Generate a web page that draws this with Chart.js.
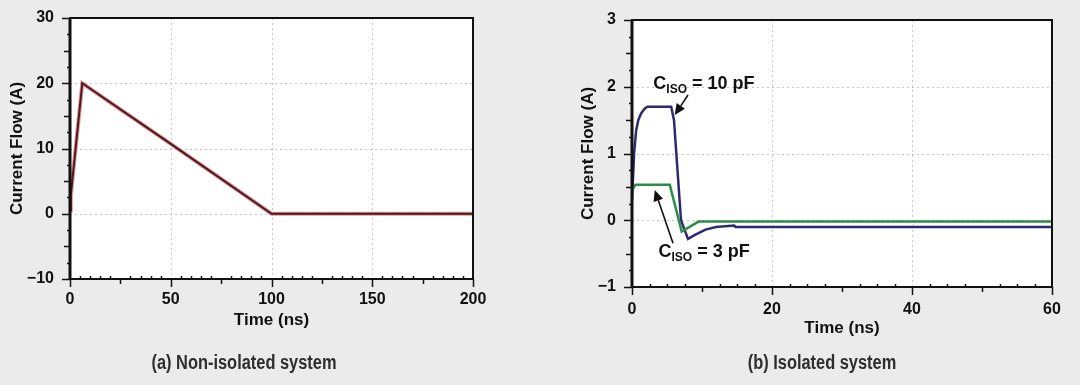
<!DOCTYPE html>
<html>
<head>
<meta charset="utf-8">
<script src="https://cdn.jsdelivr.net/npm/chart.js@4.4.1/dist/chart.umd.min.js"></script>
<style>
  html, body { margin: 0; padding: 0; background: #ebebeb; }
  #wrap { position: relative; width: 1080px; height: 385px; overflow: hidden; }
  canvas { position: absolute; top: 0; }
  .cap {
    position: absolute; top: 351px; line-height: 24px;
    font: bold 20px "Liberation Sans", Arial, sans-serif;
    color: #2e2e2e; transform: translateX(-50%) scaleX(0.82); white-space: nowrap;
  }
</style>
</head>
<body>
<div id="wrap">
  <canvas id="nonIso" width="540" height="385" style="left:0"></canvas>
  <canvas id="iso" width="540" height="385" style="left:540px"></canvas>
  <div class="cap" style="left:244px">(a) Non-isolated system</div>
  <div class="cap" style="left:822px">(b) Isolated system</div>
</div>
<script>
// (a) non-isolated system
const nonIsoTime = [0, 0.4, 6.1, 50, 100, 200];
const nonIsoCurrent = [0.5, 2.8, 20, 10.7, 0, 0];
const nonIsoXTicks = [0, 50, 100, 150, 200];
const nonIsoYTicks = [-10, 0, 10, 20, 30];

// (b) isolated system
const iso10Time = [0, 0.3, 0.6, 0.9, 1.3, 1.8, 2.2, 5.6, 6.0, 7.0, 8.0, 9.0, 10.5, 12, 14.6, 14.8, 60];
const iso10Current = [0.3, 1.0, 1.35, 1.5, 1.6, 1.67, 1.7, 1.7, 1.5, 0.0, -0.28, -0.22, -0.14, -0.1, -0.08, -0.1, -0.1];
const iso3Time = [0, 0.5, 5.4, 7.1, 9.5, 60];
const iso3Current = [0.45, 0.53, 0.53, -0.17, -0.02, -0.02];
const isoXTicks = [0, 20, 40, 60];
const isoYTicks = [-1, 0, 1, 2, 3];

const FONT = '"Liberation Sans", Arial, sans-serif';
const pts = (xs, ys) => xs.map((x, i) => ({ x: x, y: ys[i] }));
const minus = (v) => String(v).replace('-', '\u2212');

// frame, dotted grid and tick marks, drawn through the chart's scales
function axisFrame(t) {
  return {
    id: 'axisFrame',
    beforeDraw(chart) {
      const { ctx, chartArea: a } = chart;
      ctx.save();
      ctx.fillStyle = '#ffffff';
      ctx.fillRect(a.left, a.top, a.width, a.height);
      ctx.restore();
    },
    beforeDatasetsDraw(chart) {
      const { ctx, chartArea: a, scales: { x, y } } = chart;
      ctx.save();
      ctx.strokeStyle = '#c6c6c6';
      ctx.lineWidth = 1;
      ctx.setLineDash([2, 3]);
      t.xTicks.slice(1, -1).forEach((v) => {
        const px = Math.round(x.getPixelForValue(v)) + 0.5;
        ctx.beginPath(); ctx.moveTo(px, a.top); ctx.lineTo(px, a.bottom); ctx.stroke();
      });
      t.yTicks.slice(1, -1).forEach((v) => {
        const py = Math.round(y.getPixelForValue(v)) + 0.5;
        ctx.beginPath(); ctx.moveTo(a.left, py); ctx.lineTo(a.right, py); ctx.stroke();
      });
      ctx.restore();
    },
    afterDatasetsDraw(chart) {
      const { ctx, chartArea: a, scales: { x, y } } = chart;
      ctx.save();
      ctx.strokeStyle = '#111';
      ctx.lineWidth = 1.5;
      // y ticks, outward
      const ny = Math.round((y.max - y.min) / t.yMinor);
      for (let i = 0; i <= ny; i++) {
        const py = Math.round(y.getPixelForValue(y.min + i * t.yMinor)) + 0.5;
        const len = i % t.yMajorEvery === 0 ? 8 : (i % t.yMidEvery === 0 ? 6 : 3);
        ctx.beginPath(); ctx.moveTo(a.left - len, py); ctx.lineTo(a.left, py); ctx.stroke();
      }
      // x ticks: major/mid outward, minor inward
      const nx = Math.round((x.max - x.min) / t.xMinor);
      for (let i = 0; i <= nx; i++) {
        const px = Math.round(x.getPixelForValue(x.min + i * t.xMinor)) + 0.5;
        ctx.beginPath();
        if (i % t.xMajorEvery === 0) { ctx.moveTo(px, a.bottom); ctx.lineTo(px, a.bottom + 8); }
        else if (i % t.xMidEvery === 0) { ctx.moveTo(px, a.bottom); ctx.lineTo(px, a.bottom + 5); }
        else { ctx.moveTo(px, a.bottom); ctx.lineTo(px, a.bottom - 3); }
        ctx.stroke();
      }
      ctx.lineWidth = 2;
      ctx.strokeRect(a.left, a.top, a.width, a.height);
      ctx.lineWidth = 3;
      ctx.beginPath(); ctx.moveTo(a.left, a.top); ctx.lineTo(a.left, a.bottom + 1); ctx.stroke();
      ctx.restore();
    }
  };
}

function makeScales(xMax, xTicks, yMin, yMax, yTicks, yWidth, yTitlePad, xLabelPad) {
  return {
    x: {
      type: 'linear', min: 0, max: xMax,
      afterBuildTicks: (s) => { s.ticks = xTicks.map((v) => ({ value: v })); },
      afterFit: (s) => { s.height = 52; s.paddingLeft = 0; s.paddingRight = 0; },
      grid: { display: false, drawTicks: false },
      border: { display: false },
      ticks: { autoSkip: false, maxRotation: 0, padding: xLabelPad, color: '#111',
               font: { family: FONT, size: 16, weight: 'bold' } },
      title: { display: true, text: 'Time (ns)', color: '#111', padding: { top: 0, bottom: 0 },
               font: { family: FONT, size: 17, weight: 'bold' } }
    },
    y: {
      type: 'linear', min: yMin, max: yMax,
      afterBuildTicks: (s) => { s.ticks = yTicks.map((v) => ({ value: v })); },
      afterFit: (s) => { s.width = yWidth; s.paddingTop = 0; s.paddingBottom = 0; },
      grid: { display: false, drawTicks: false },
      border: { display: false },
      ticks: { padding: 16, color: '#111', callback: minus,
               font: { family: FONT, size: 16, weight: 'bold' } },
      title: { display: true, text: 'Current Flow (A)', color: '#111', padding: { top: yTitlePad, bottom: 0 },
               font: { family: FONT, size: 17, weight: 'bold' } }
    }
  };
}

const common = {
  responsive: false,
  devicePixelRatio: 1,
  animation: false,
  plugins: { legend: { display: false }, tooltip: { enabled: false } },
  elements: { point: { radius: 0 }, line: { tension: 0 } }
};

new Chart(document.getElementById('nonIso'), {
  type: 'line',
  data: {
    datasets: [
      { data: pts(nonIsoTime, nonIsoCurrent), borderColor: '#4a1a1f', borderWidth: 2, order: 0 },
      { data: pts(nonIsoTime, nonIsoCurrent), borderColor: 'rgba(205,60,70,0.55)', borderWidth: 4, order: 1 }
    ]
  },
  options: Object.assign({}, common, {
    layout: { padding: { left: 0, top: 18, right: 67, bottom: 54 } },
    scales: makeScales(200, nonIsoXTicks, -10, 30, nonIsoYTicks, 70, 7, 11)
  }),
  plugins: [axisFrame({ xTicks: nonIsoXTicks, yTicks: nonIsoYTicks,
    yMinor: 2.5, yMajorEvery: 4, yMidEvery: 2, xMinor: 5, xMajorEvery: 10, xMidEvery: 5 })]
});

// callouts on (b), placed in data coordinates
const isoLabels = [
  { x: 3.05, y: 1.966, sub: 'ISO', rest: ' = 10 pF' },
  { x: 3.79, y: -0.55, sub: 'ISO', rest: ' = 3 pF' }
];
const isoArrows = [
  { from: [8.0, 1.876], to: [6.1, 1.576] },
  { from: [5.86, -0.345], to: [3.25, 0.455] }
];

const callouts = {
  id: 'callouts',
  afterDraw(chart) {
    const { ctx, scales: { x, y } } = chart;
    ctx.save();
    ctx.fillStyle = '#111';
    ctx.textBaseline = 'alphabetic';
    isoLabels.forEach((l) => {
      let px = x.getPixelForValue(l.x);
      const py = y.getPixelForValue(l.y);
      ctx.font = 'bold 18px ' + FONT;
      ctx.fillText('C', px, py);
      px += ctx.measureText('C').width;
      ctx.font = 'bold 12px ' + FONT;
      ctx.fillText(l.sub, px, py + 4);
      px += ctx.measureText(l.sub).width;
      ctx.font = 'bold 18px ' + FONT;
      ctx.fillText(l.rest, px, py);
    });
    ctx.strokeStyle = '#111';
    ctx.lineWidth = 1.6;
    isoArrows.forEach((a) => {
      const x0 = x.getPixelForValue(a.from[0]), y0 = y.getPixelForValue(a.from[1]);
      const x1 = x.getPixelForValue(a.to[0]), y1 = y.getPixelForValue(a.to[1]);
      const ang = Math.atan2(y1 - y0, x1 - x0);
      const hl = 11, hw = 5;
      const bx = x1 - hl * Math.cos(ang), by = y1 - hl * Math.sin(ang);
      ctx.beginPath(); ctx.moveTo(x0, y0); ctx.lineTo(bx, by); ctx.stroke();
      ctx.beginPath();
      ctx.moveTo(x1, y1);
      ctx.lineTo(bx + hw * Math.sin(ang), by - hw * Math.cos(ang));
      ctx.lineTo(bx - hw * Math.sin(ang), by + hw * Math.cos(ang));
      ctx.closePath(); ctx.fill();
    });
    ctx.restore();
  }
};

new Chart(document.getElementById('iso'), {
  type: 'line',
  data: {
    datasets: [
      { data: pts(iso3Time, iso3Current), borderColor: '#2f8c48', borderWidth: 2.5, order: 0 },
      { data: pts(iso10Time, iso10Current), borderColor: '#2d2b70', borderWidth: 2.5, order: 1 }
    ]
  },
  options: Object.assign({}, common, {
    layout: { padding: { left: 0, top: 20, right: 28, bottom: 46 } },
    scales: makeScales(60, isoXTicks, -1, 3, isoYTicks, 92, 38, 13)
  }),
  plugins: [axisFrame({ xTicks: isoXTicks, yTicks: isoYTicks,
    yMinor: 0.25, yMajorEvery: 4, yMidEvery: 2, xMinor: 2.5, xMajorEvery: 8, xMidEvery: 4 }), callouts]
});
</script>
</body>
</html>
